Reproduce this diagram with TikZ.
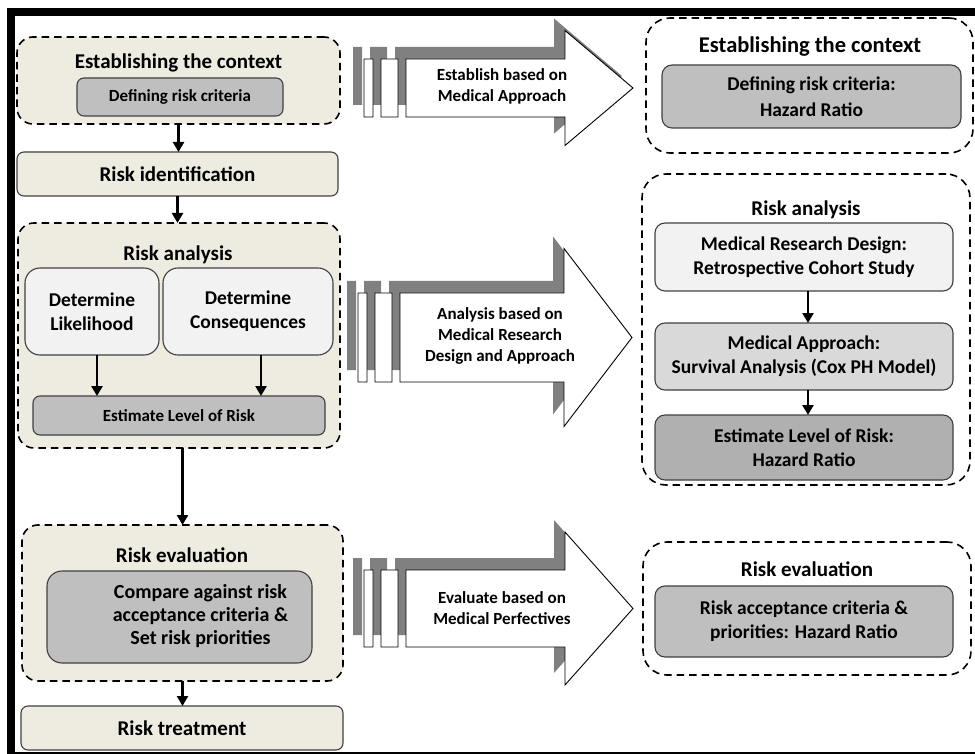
\documentclass[tikz,border=0pt]{standalone}
\usepackage{fontspec}
\setmainfont{Carlito}
\usetikzlibrary{arrows.meta}

\definecolor{tanfill}{HTML}{EEECE1}
\definecolor{boxgray}{HTML}{BFBFBF}
\definecolor{darkgray2}{HTML}{B0B0B0}
\definecolor{midgray}{HTML}{D9D9D9}
\definecolor{palegray}{HTML}{F2F2F2}
\definecolor{shadowgray}{HTML}{808080}

\begin{document}
\begin{tikzpicture}[x=1pt, y=-1pt,
  every node/.style={font=\bfseries, align=center, inner sep=0pt, outer sep=0pt, text=black},
  outer/.style={draw=black, line width=1.6pt, dash pattern=on 7.5pt off 5pt, rounded corners=16pt},
  box/.style={draw=black!75, line width=1.1pt, rounded corners=7pt},
  conn/.style={line width=2.3pt, -{Triangle[length=10pt,width=11pt]}},
  title/.style={font=\bfseries\fontsize{21}{25}\selectfont},
  small/.style={font=\bfseries\fontsize{17}{21}\selectfont},
  body/.style={font=\bfseries\fontsize{19.5}{24}\selectfont}]
\useasboundingbox (0,0) rectangle (975,754);

\fill[black] (7,8) rectangle (975,16);
\fill[black] (7,8) rectangle (15,752);
\fill[black] (7,752) rectangle (975,754);

\node[outer, fill=tanfill, minimum width=323pt, minimum height=87pt] (ctx) at (178.5,80.5) {};
\node[title] (ctxtitle) at (178.5,63) {Establishing the context};
\node[box, small, fill=boxgray, minimum width=206pt, minimum height=38pt] (crit) at (180,97) {Defining risk criteria};
\node[box, title, fill=tanfill, minimum width=321pt, minimum height=44pt] (ident) at (177.5,174) {Risk identification};

\node[outer, fill=tanfill, minimum width=322pt, minimum height=225pt] (ana) at (179,335.5) {};
\node[title] (anatitle) at (178,255) {Risk analysis};
\node[box, body, fill=palegray, rounded corners=15pt, minimum width=134pt, minimum height=87pt] (lik) at (92,311.5) {Determine\\Likelihood};
\node[box, body, fill=palegray, rounded corners=15pt, minimum width=170pt, minimum height=87pt] (cons) at (248,311.5) {Determine\\Consequences};
\node[box, small, fill=boxgray, minimum width=292pt, minimum height=39pt] (est) at (179,415.5) {Estimate Level of Risk};

\node[outer, fill=tanfill, minimum width=321pt, minimum height=156pt] (evl) at (182.5,603) {};
\node[title] (evltitle) at (182,555) {Risk evaluation};
\node[box, fill=boxgray, rounded corners=15pt, minimum width=265pt, minimum height=92pt, font=\bfseries\fontsize{20}{23}\selectfont] (cmp) at (179.5,617) {\hspace*{42pt}\begin{tabular}{@{}c@{}}Compare against risk\\acceptance criteria \&\\Set risk priorities\end{tabular}};
\node[box, title, fill=tanfill, minimum width=322pt, minimum height=44pt] (treat) at (182,728) {Risk treatment};

\draw[conn] (ctx.south) -- (ctx.south |- ident.north);
\draw[conn] (ident.south) -- (ident.south |- ana.north);
\draw[conn] ([xshift=5pt]lik.south) -- ([xshift=5pt]lik.south |- est.north);
\draw[conn] ([xshift=13pt]cons.south) -- ([xshift=13pt]cons.south |- est.north);
\draw[conn] (evl.north |- ana.south) -- (evl.north);
\draw[conn] (evl.south) -- (evl.south |- treat.north);

\foreach \x/\y/\b/\h/\e in {364/88/29/57.5/565, 358/337.5/44.5/89/564, 364/608.5/38.5/76.5/565} {
  \fill[shadowgray] (\x-11,\y-\b-12) rectangle (\x-2,\y+\b-12)
    (\x+6,\y-\b-12) rectangle (\x+23,\y+\b-12)
    (\x+31,\y-\b-12) -- (\e-11,\y-\b-12) -- (\e-11,\y-\h-12) -- (\e+57,\y-12) -- (\e-11,\y+\h-12) -- (\e-11,\y+\b-12) -- (\x+31,\y+\b-12) -- cycle;
  \filldraw[fill=white, draw=black, line width=0.9pt] (\x,\y-\b) rectangle (\x+9,\y+\b)
    (\x+17,\y-\b) rectangle (\x+34,\y+\b)
    (\x+42,\y-\b) -- (\e,\y-\b) -- (\e,\y-\h) -- (\e+68,\y) -- (\e,\y+\h) -- (\e,\y+\b) -- (\x+42,\y+\b) -- cycle;
}
\node[small] (ar1) at (502,86) {Establish based on\\Medical Approach};
\node[small] (ar2) at (500,336) {Analysis based on\\Medical Research\\Design and Approach};
\node[small] (ar3) at (502,608) {Evaluate based on\\Medical Perfectives};

\node[outer, rounded corners=24pt, minimum width=327pt, minimum height=135pt] (rctx) at (809.5,85.5) {};
\node[font=\bfseries\fontsize{22.5}{27}\selectfont] (rctxtitle) at (810,47) {Establishing the context};
\node[box, fill=boxgray, rounded corners=10pt, minimum width=299pt, minimum height=63pt, font=\bfseries\fontsize{19.5}{26}\selectfont] (rcrit) at (811.5,96.5) {Defining risk criteria:\\Hazard Ratio};

\node[outer, rounded corners=24pt, minimum width=328pt, minimum height=311pt] (rana) at (806,329.5) {};
\node[title] (ranatitle) at (806,210) {Risk analysis};
\node[box, body, fill=palegray, rounded corners=10pt, minimum width=298pt, minimum height=68pt] (design) at (804,257) {Medical Research Design:\\Retrospective Cohort Study};
\node[box, body, fill=midgray, rounded corners=10pt, minimum width=298pt, minimum height=67pt] (approach) at (804,356.5) {Medical Approach:\\Survival Analysis (Cox PH Model)};
\node[box, body, fill=darkgray2, rounded corners=10pt, minimum width=298pt, minimum height=65pt] (hazard) at (804,447.5) {Estimate Level of Risk:\\Hazard Ratio};

\node[outer, rounded corners=24pt, minimum width=328pt, minimum height=133pt] (reval) at (807,608.5) {};
\node[title] (revaltitle) at (807,569) {Risk evaluation};
\node[box, body, fill=boxgray, rounded corners=10pt, minimum width=298pt, minimum height=71pt] (racc) at (804,621.5) {Risk acceptance criteria \&\\priorities: Hazard Ratio};

\draw[conn] ([xshift=4pt]design.south) -- ([xshift=4pt]design.south |- approach.north);
\draw[conn] ([xshift=4pt]approach.south) -- ([xshift=4pt]approach.south |- hazard.north);
\end{tikzpicture}
\end{document}
